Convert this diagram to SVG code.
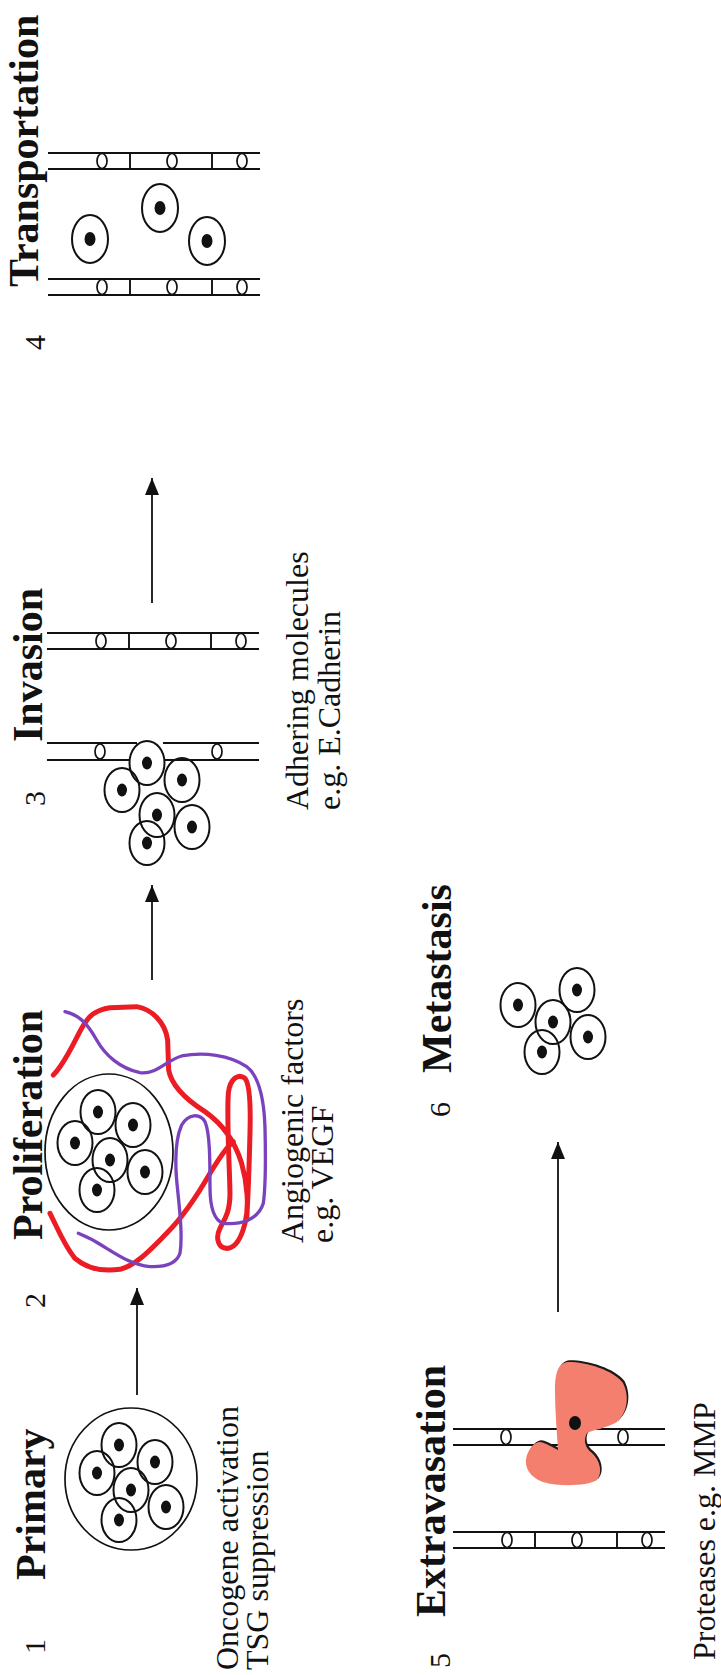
<svg xmlns="http://www.w3.org/2000/svg" xmlns:xlink="http://www.w3.org/1999/xlink" width="721" height="1675" viewBox="0 0 721 1675">
  <style>
    text { font-family: "Liberation Serif", "Times New Roman", serif; fill: #111; }
    .head { font-size: 42px; font-weight: bold; }
    .num { font-size: 30px; }
    .cap { font-size: 32px; }
    .line { fill: none; stroke: #111; stroke-width: 1.9; }
    .outer { fill: none; stroke: #111; stroke-width: 1.7; }
    .memb { fill: #fff; stroke: #111; stroke-width: 1.7; }
    .nuc { fill: #111; }
    .conn { fill: none; stroke: #111; stroke-width: 1.8; marker-end: url(#head); }
    .red { fill: none; stroke: #ec1c24; stroke-width: 15; stroke-linecap: round; stroke-linejoin: round; }
    .purple { fill: none; stroke: #7b42bd; stroke-width: 10; stroke-linecap: round; stroke-linejoin: round; }
  </style>
  <defs>
    <marker id="head" markerUnits="userSpaceOnUse" markerWidth="18" markerHeight="15" refX="17" refY="7" orient="auto">
      <path d="M0,0 L17,7 L0,14 Z" fill="#111"/>
    </marker>
    <!-- one tumour cell: membrane + nucleus -->
    <g id="cell">
      <ellipse rx="17.5" ry="22" fill="none" stroke="#111" stroke-width="2"/>
      <ellipse rx="5" ry="6.5" class="nuc"/>
    </g>
    <g id="cell-lg">
      <ellipse rx="18" ry="24" fill="none" stroke="#111" stroke-width="2"/>
      <ellipse rx="5.5" ry="7" class="nuc"/>
    </g>
    <!-- vessel wall with junctions and ticks -->
    <g id="vessel">
      <path class="line" d="M0,0 H212 M0,16 H212 M82,0 V16 M164,0 V16"/>
      <ellipse class="memb" cx="54" cy="8" rx="5" ry="7.5"/>
      <ellipse class="memb" cx="124" cy="8" rx="5" ry="7.5"/>
      <ellipse class="memb" cx="194" cy="8" rx="5" ry="7.5"/>
    </g>
    <g id="vessel-open">
      <path class="line" d="M0,0 H212 M0,16 H212"/>
      <ellipse class="memb" cx="53" cy="8" rx="5" ry="7.5"/>
      <ellipse class="memb" cx="170" cy="8" rx="5" ry="7.5"/>
    </g>
  </defs>

  <rect width="721" height="1675" fill="#fff"/>

  <!-- 1 Primary -->
  <g id="primary">
    <text class="num" transform="translate(45,1654) rotate(-90)">1</text>
    <text class="head" transform="translate(45,1580) rotate(-90)">Primary</text>
    <ellipse class="outer" cx="131" cy="1479" rx="66" ry="71"/>
    <use xlink:href="#cell" x="119" y="1445"/>
    <use xlink:href="#cell" x="155" y="1462"/>
    <use xlink:href="#cell" x="97" y="1473"/>
    <use xlink:href="#cell" x="131" y="1490"/>
    <use xlink:href="#cell" x="166" y="1507"/>
    <use xlink:href="#cell" x="119" y="1520"/>
    <text class="cap" transform="translate(238,1670) rotate(-90)">Oncogene activation</text>
    <text class="cap" transform="translate(268,1670) rotate(-90)">TSG suppression</text>
  </g>

  <!-- 2 Proliferation -->
  <g id="proliferation">
    <text class="num" transform="translate(45,1308) rotate(-90)">2</text>
    <text class="head" transform="translate(42,1240) rotate(-90)">Proliferation</text>
    <ellipse class="outer" cx="109" cy="1152" rx="64" ry="78"/>
    <use xlink:href="#cell" x="98" y="1112"/>
    <use xlink:href="#cell" x="133" y="1125"/>
    <use xlink:href="#cell" x="75" y="1143"/>
    <use xlink:href="#cell" x="110" y="1160"/>
    <use xlink:href="#cell" x="145" y="1172"/>
    <use xlink:href="#cell" x="97" y="1190"/>
    <!-- new vessels around the tumour -->
    <g transform="translate(0,960) scale(0.3333)">
      <path class="red" d="M160,345 C195,310 220,250 245,205 C265,168 285,150 330,143 L410,140 C455,148 495,185 503,240 L506,330 C515,380 560,420 615,455 C665,490 705,545 725,610 C742,670 748,740 735,790 C725,830 710,860 685,865 C655,868 645,835 660,805 C672,780 690,760 690,700 C688,600 680,480 685,400 C690,355 715,340 735,355 C752,375 752,450 750,520 C748,600 745,700 740,780"/>
      <path class="red" d="M150,760 C175,810 195,860 225,895 C260,925 310,935 360,928 C410,915 450,870 500,820 C545,775 590,710 630,640 C660,590 680,560 700,545"/>
      <path class="purple" d="M195,155 C240,165 265,195 290,240 C315,285 360,325 420,338 C470,345 500,300 545,288 C610,275 690,285 740,320 C780,350 792,420 795,500 C797,580 797,680 790,730 C775,780 720,795 670,790 C640,780 630,740 630,680 C630,600 630,520 615,485 C600,460 565,460 545,495 C525,540 525,620 533,690 C540,760 548,830 540,880 C530,910 500,922 450,920 C400,915 360,890 320,865 C290,845 260,830 235,820"/>
    </g>
    <text class="cap" transform="translate(303,1243) rotate(-90)">Angiogenic factors</text>
    <text class="cap" transform="translate(333,1243) rotate(-90)">e.g. VEGF</text>
  </g>

  <!-- 3 Invasion -->
  <g id="invasion">
    <text class="num" transform="translate(45,806) rotate(-90)">3</text>
    <text class="head" transform="translate(42,742) rotate(-90)">Invasion</text>
    <use xlink:href="#vessel" x="47" y="633"/>
    <path class="line" d="M47,743 H137 M163,743 H259 M47,760 H130 M165,760 H259"/>
    <ellipse class="memb" cx="100" cy="751.5" rx="5" ry="7.5"/>
    <ellipse class="memb" cx="217" cy="751.5" rx="5" ry="7.5"/>
    <use xlink:href="#cell" x="147" y="763"/>
    <use xlink:href="#cell" x="182" y="780"/>
    <use xlink:href="#cell" x="122" y="790"/>
    <use xlink:href="#cell" x="157" y="815"/>
    <use xlink:href="#cell" x="192" y="827"/>
    <use xlink:href="#cell" x="147" y="843"/>
    <text class="cap" transform="translate(308,810) rotate(-90)">Adhering molecules</text>
    <text class="cap" transform="translate(340,810) rotate(-90)">e.g. E.Cadherin</text>
  </g>

  <!-- 4 Transportation -->
  <g id="transportation">
    <text class="num" transform="translate(45,350) rotate(-90)">4</text>
    <text class="head" transform="translate(38,287) rotate(-90)">Transportation</text>
    <use xlink:href="#vessel" x="48" y="153"/>
    <use xlink:href="#vessel" x="48" y="279"/>
    <use xlink:href="#cell-lg" x="90" y="239"/>
    <use xlink:href="#cell-lg" x="160" y="208"/>
    <use xlink:href="#cell-lg" x="207" y="241"/>
  </g>

  <!-- 5 Extravasation -->
  <g id="extravasation">
    <text class="num" transform="translate(450,1668) rotate(-90)">5</text>
    <text class="head" transform="translate(445,1617) rotate(-90)">Extravasation</text>
    <use xlink:href="#vessel-open" x="453" y="1429"/>
    <use xlink:href="#vessel" x="453" y="1532"/>
    <!-- cell squeezing through the vessel wall -->
    <path transform="translate(1.6,-1.8)" fill="#1a1a1a" d="M568,1362 C587,1362 613,1370 623,1383 C630,1397 627,1413 617,1422 C607,1428 593,1430 587,1433 C583,1440 585,1448 592,1453 C600,1460 603,1473 597,1480 C587,1486 560,1487 543,1482 C530,1477 523,1467 527,1455 C530,1447 535,1442 540,1442 C547,1443 553,1448 558,1450 C557,1433 555,1410 555,1390 C555,1373 558,1363 568,1362 Z"/>
    <path fill="#f47f6e" d="M568,1362 C587,1362 613,1370 623,1383 C630,1397 627,1413 617,1422 C607,1428 593,1430 587,1433 C583,1440 585,1448 592,1453 C600,1460 603,1473 597,1480 C587,1486 560,1487 543,1482 C530,1477 523,1467 527,1455 C530,1447 535,1442 540,1442 C547,1443 553,1448 558,1450 C557,1433 555,1410 555,1390 C555,1373 558,1363 568,1362 Z"/>
    <ellipse class="nuc" cx="575" cy="1423" rx="6" ry="7"/>
    <text class="cap" transform="translate(715,1660) rotate(-90)">Proteases e.g. MMP</text>
  </g>

  <!-- 6 Metastasis -->
  <g id="metastasis">
    <text class="num" transform="translate(450,1117) rotate(-90)">6</text>
    <text class="head" transform="translate(451,1073) rotate(-90)">Metastasis</text>
    <use xlink:href="#cell" x="518" y="1005"/>
    <use xlink:href="#cell" x="577" y="990"/>
    <use xlink:href="#cell" x="553" y="1022"/>
    <use xlink:href="#cell" x="588" y="1037"/>
    <use xlink:href="#cell" x="542" y="1052"/>
  </g>

  <g id="connectors">
    <path class="conn" d="M137,1395 V1288"/>
    <path class="conn" d="M152,980 V885"/>
    <path class="conn" d="M152,603 V478"/>
    <path class="conn" d="M558,1312 V1142"/>
  </g>
</svg>
